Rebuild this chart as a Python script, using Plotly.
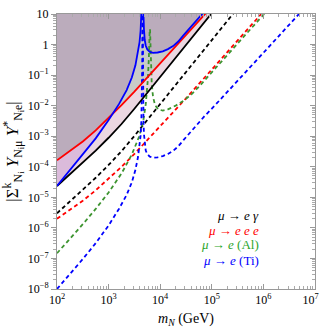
import plotly.graph_objects as go

# all values are log10(m_N / GeV) and log10(|sum Y Y*|)
eg_lx = [2.0, 2.25, 2.5, 2.75, 3.0, 3.25, 3.5, 3.75, 4.0, 4.25, 4.5, 4.75, 5.0]
eg_now = [-4.63, -4.25, -3.86, -3.47, -3.05, -2.60, -2.10, -1.58, -1.06, -0.54, -0.02, 0.50, 1.03]
eg_fut_lx = [2.0, 2.25, 2.5, 2.75, 3.0, 3.25, 3.5, 3.75, 4.0, 4.25, 4.5, 4.75, 5.0, 5.25, 5.5]
eg_fut = [-5.52, -5.14, -4.75, -4.36, -3.94, -3.49, -2.99, -2.47, -1.95, -1.43, -0.91, -0.39, 0.14, 0.66, 1.19]

eee_lx = [2.0, 2.25, 2.5, 2.75, 3.0, 3.07, 3.25, 3.5, 3.75, 4.0, 4.25, 4.5, 4.75, 5.0]
eee_now = [-3.79, -3.49, -3.17, -2.81, -2.41, -2.29, -1.98, -1.54, -1.08, -0.61, -0.15, 0.31, 0.78, 1.24]
eee_fut_lx = [2.0, 2.25, 2.5, 2.75, 3.0, 3.25, 3.5, 3.75, 4.0, 4.25, 4.5, 4.75, 5.0, 5.25, 5.5, 5.75, 6.0]
eee_fut = [-5.70, -5.41, -5.11, -4.77, -4.40, -4.00, -3.58, -3.13, -2.68, -2.22, -1.76, -1.29, -0.82, -0.35, 0.12, 0.60, 1.08]

al_left_lx = [2.0, 2.25, 2.5, 2.75, 3.0, 3.25, 3.45, 3.59, 3.67, 3.72, 3.76, 3.78, 3.79, 3.797]
al_left = [-6.83, -6.36, -5.88, -5.38, -4.84, -4.22, -3.60, -3.02, -2.52, -1.95, -1.15, -0.45, 0.05, 0.5]
al_right_lx = [3.803, 3.81, 3.82, 3.835, 3.86, 3.9, 3.96, 4.05, 4.15, 4.3, 4.45, 4.6, 4.75,
               4.9, 5.0, 5.25, 5.5, 5.75, 6.0, 6.05]
al_right = [0.5, -0.05, -0.65, -1.25, -1.70, -1.98, -2.12, -2.16, -2.12, -2.00, -1.84, -1.64, -1.38,
            -1.10, -0.91, -0.45, 0.02, 0.50, 0.97, 1.07]

ti_now_left_lx = [2.0, 2.25, 2.5, 2.75, 3.0, 3.07, 3.2, 3.35, 3.45, 3.52, 3.57, 3.6, 3.62, 3.635, 3.645]
ti_now_left = [-4.63, -4.12, -3.60, -3.07, -2.47, -2.29, -1.95, -1.49, -1.08, -0.68, -0.26, 0.08, 0.45, 0.9, 1.4]
ti_now_right_lx = [3.668, 3.675, 3.685, 3.70, 3.72, 3.75, 3.80, 3.86, 3.95, 4.05, 4.15, 4.25, 4.35,
                   4.45, 4.55, 4.65, 4.75, 4.85]
ti_now_right = [1.4, 0.9, 0.5, 0.15, -0.04, -0.16, -0.24, -0.27, -0.26, -0.22, -0.15, -0.05, 0.10,
                0.30, 0.50, 0.69, 0.88, 1.07]

ti_fut_left_lx = [2.0, 2.25, 2.5, 2.75, 3.0, 3.2, 3.35, 3.45, 3.52, 3.57, 3.6, 3.62, 3.635, 3.645, 3.652, 3.656]
ti_fut_left = [-8.0, -7.52, -7.02, -6.50, -5.92, -5.38, -4.92, -4.51, -4.10, -3.68, -3.35, -2.98, -2.50, -1.80, -0.6, 1.4]
ti_fut_right_lx = [3.660, 3.664, 3.668, 3.675, 3.685, 3.70, 3.72, 3.75, 3.80, 3.86, 3.95, 4.05, 4.15,
                   4.25, 4.35, 4.45, 4.55, 4.65, 4.75, 4.85, 5.0, 5.25, 5.5, 5.75, 6.0, 6.25, 6.5, 6.75]
ti_fut_right = [1.4, -0.6, -1.6, -2.45, -2.93, -3.28, -3.47, -3.59, -3.67, -3.70, -3.69, -3.65, -3.58,
                -3.48, -3.33, -3.13, -2.93, -2.74, -2.55, -2.36, -2.10, -1.65, -1.19, -0.73, -0.27, 0.19, 0.65, 1.11]

x_ticks = [2, 3, 4, 5, 6, 7]
y_ticks = [-8, -7, -6, -5, -4, -3, -2, -1, 0, 1]

TOP = 1.6
SERIF = "Liberation Serif"


def p10(v):
    return [None if a is None else 10 ** a for a in v]


def above(lx, ly):
    # region between a curve and the top of the frame
    return p10(list(lx) + [lx[-1], lx[0]]), p10(list(ly) + [TOP, TOP])


fig = go.Figure()

# shaded (excluded) regions, layered
fx, fy = above(eg_lx, eg_now)
fig.add_trace(go.Scatter(x=fx, y=fy, fill="toself", fillcolor="#ebd7e1", line_width=0, mode="lines"))

fx, fy = above(ti_now_left_lx + ti_now_right_lx, ti_now_left + ti_now_right)
fig.add_trace(go.Scatter(x=fx, y=fy, fill="toself", fillcolor="#dbbbdb", line_width=0, mode="lines"))

fx, fy = above(eee_lx, eee_now)
fig.add_trace(go.Scatter(x=fx, y=fy, fill="toself", fillcolor="#c9cbc7", line_width=0, mode="lines"))

cross = 3.07
env_lx = [a for a in eee_lx if a <= cross] + [a for a in ti_now_left_lx if a > cross] + ti_now_right_lx
env_ly = ([b for a, b in zip(eee_lx, eee_now) if a <= cross]
          + [b for a, b in zip(ti_now_left_lx, ti_now_left) if a > cross] + ti_now_right)
fx, fy = above(env_lx, env_ly)
fig.add_trace(go.Scatter(x=fx, y=fy, fill="toself", fillcolor="#bbacbc", line_width=0, mode="lines"))

DASH = "4px,3px"
GREEN = "#3d9430"

lines = [
    (eg_fut_lx, eg_fut, "black", DASH),
    (eee_fut_lx, eee_fut, "#ff0000", DASH),
    (al_left_lx + [None] + al_right_lx, al_left + [None] + al_right, GREEN, DASH),
    (ti_fut_left_lx + [None] + ti_fut_right_lx, ti_fut_left + [None] + ti_fut_right, "#0000ff", DASH),
    (eg_lx, eg_now, "black", "solid"),
    (eee_lx, eee_now, "#ff0000", "solid"),
    (ti_now_left_lx + [None] + ti_now_right_lx, ti_now_left + [None] + ti_now_right, "#0000ff", "solid"),
]
for lx, ly, col, dash in lines:
    fig.add_trace(go.Scatter(
        x=p10(lx), y=p10(ly), mode="lines", connectgaps=False,
        line=dict(color=col, width=1.8, dash=dash),
    ))

# empty trace so the top/right frame axes get drawn
fig.add_trace(go.Scatter(x=[], y=[], xaxis="x2", yaxis="y2"))

minor_x = [k * 10 ** e for e in range(2, 7) for k in range(2, 10)]
minor_y = [k * 10 ** e for e in range(-8, 1) for k in range(2, 10)]

axis_common = dict(type="log", showgrid=False, zeroline=False, showline=True,
                   linecolor="#999999", linewidth=1, tickcolor="#999999")

x_text = ["10<sup>%d</sup>" % t for t in x_ticks]
x_text[-1] += "\u00a0\u00a0\u00a0"

fig.update_layout(
    width=332, height=329,
    margin=dict(l=57, r=4, t=14, b=40),
    paper_bgcolor="white", plot_bgcolor="white",
    showlegend=False,
    font=dict(family=SERIF, size=12, color="black"),
    xaxis=dict(
        **axis_common, range=[2, 7], ticks="inside", ticklen=5,
        tickvals=p10(x_ticks), ticktext=x_text, ticklabeloverflow="allow",
        minor=dict(ticks="inside", ticklen=3, tickcolor="#aaaaaa", tickvals=minor_x),
        title=dict(text="<i>m<sub>N</sub></i> (GeV)", font=dict(size=14), standoff=6),
    ),
    yaxis=dict(
        **axis_common, range=[-8, 1], ticks="outside", ticklen=5,
        tickvals=p10(y_ticks),
        ticktext=["10<sup>−%d</sup>" % -t if t < 0 else ("1" if t == 0 else "10") for t in y_ticks],
        minor=dict(ticks="outside", ticklen=3, tickcolor="#aaaaaa", tickvals=minor_y),
        title=dict(
            text="|Σ<sup>k</sup><sub>N<sub>i</sub></sub> <i>Y</i><sub>N<sub>i</sub>μ</sub> "
                 "<i>Y</i><sup>*</sup><sub>N<sub>i</sub>e</sub>|",
            font=dict(size=17), standoff=4),
    ),
    xaxis2=dict(**axis_common, range=[2, 7], overlaying="x", side="top", anchor="y",
                ticks="inside", ticklen=5, tickvals=p10(x_ticks), showticklabels=False,
                minor=dict(ticks="inside", ticklen=3, tickcolor="#aaaaaa", tickvals=minor_x)),
    yaxis2=dict(**axis_common, range=[-8, 1], overlaying="y", side="right", anchor="x",
                ticks="inside", ticklen=5, tickvals=p10(y_ticks), showticklabels=False,
                minor=dict(ticks="inside", ticklen=3, tickcolor="#aaaaaa", tickvals=minor_y)),
)

legend_items = [
    ("<i>μ</i> → <i>e γ</i>", "black", 0.233),
    ("<i>μ</i> → <i>e e e</i>", "#ff0000", 0.178),
    ("<i>μ</i> → <i>e</i> (Al)", "#2aa52a", 0.127),
    ("<i>μ</i> → <i>e</i> (Ti)", "#0000ff", 0.069),
]
for txt, col, yy in legend_items:
    fig.add_annotation(text=txt, x=0.79, y=yy, xref="paper", yref="paper",
                       showarrow=False, font=dict(family=SERIF, size=13, color=col))

fig.write_html("out.html", config={"displayModeBar": False},
               post_script="document.body.style.margin='0';")
